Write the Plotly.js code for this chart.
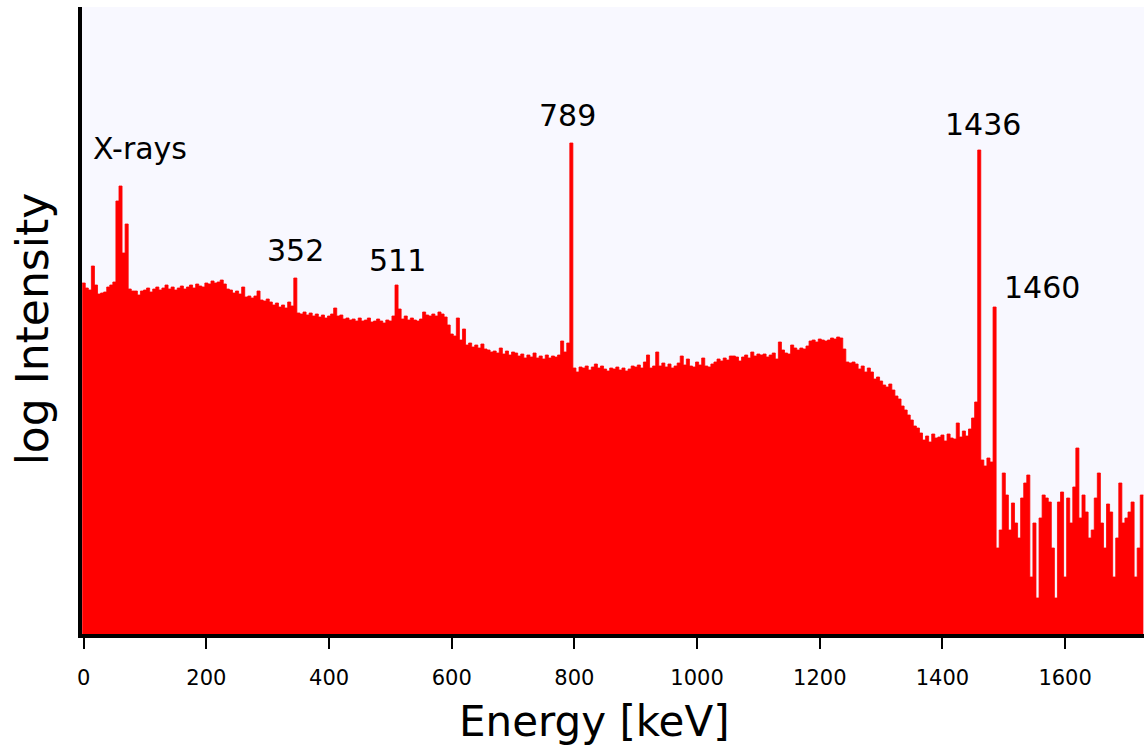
<!DOCTYPE html>
<html>
<head>
<meta charset="utf-8">
<script src="https://cdn.plot.ly/plotly-3.0.1.min.js"></script>
<style>
  html, body { margin: 0; padding: 0; background: #ffffff; }
  #chart { width: 1144px; height: 751px; }
</style>
</head>
<body>
<div id="chart"></div>
<script>
// Energy binning of the spectrum (keV)
const binStart = -2.5;
const binWidth = 5;

// log intensity per 5 keV bin (arbitrary units)
const logIntensity = [
  351,346,344,368,349,340,341,342,347,349,
  352,433,448,381,410,345,343,343,339,343,
  344,346,342,345,347,344,346,349,345,347,
  344,346,348,345,347,349,346,350,348,347,
  351,350,353,351,352,354,350,345,344,341,
  343,340,347,337,338,336,338,343,334,333,
  335,332,329,331,327,329,326,332,328,356,
  321,320,322,319,321,318,320,317,319,316,
  318,320,326,318,319,315,316,314,315,313,
  316,313,314,316,312,313,315,313,311,314,
  313,318,349,325,315,318,314,316,314,313,
  315,322,319,318,320,318,322,320,317,309,
  300,298,316,294,305,289,291,287,289,286,
  290,285,284,282,283,281,286,280,283,279,
  282,281,278,280,276,279,277,281,276,278,
  275,279,276,278,277,279,293,282,291,491,
  266,262,267,266,268,264,267,270,266,268,
  265,263,266,265,267,264,266,263,265,268,
  267,269,266,272,279,266,268,282,268,271,
  267,270,266,268,271,278,269,275,268,267,
  272,269,276,268,267,270,272,275,273,276,
  274,278,278,277,273,277,279,276,282,278,
  280,279,280,277,279,281,275,292,284,281,
  280,289,286,284,286,285,288,293,294,292,
  295,294,293,294,296,295,297,296,285,272,
  271,272,270,265,268,262,266,262,255,257,
  253,249,247,250,244,238,235,228,224,219,
  214,208,206,201,194,198,192,200,196,197,
  199,193,200,196,195,211,197,203,198,205,
  216,232,484,174,168,176,172,327,86,104,
  161,139,104,131,111,96,136,151,159,57,
  111,36,116,139,136,132,86,36,132,142,
  57,136,111,147,186,116,139,122,96,104,
  136,161,111,86,130,122,57,96,151,111,
  116,122,132,57,86,139
];

// Axis ticks
const tickValues = [0, 200, 400, 600, 800, 1000, 1200, 1400, 1600];
const tickLabels = ["0", "200", "400", "600", "800", "1000", "1200", "1400", "1600"];

// Axis titles
const xTitle = "Energy [keV]";
const yTitle = "log Intensity";

// Peak labels
const peakLabels = ["X-rays", "352", "511", "789", "1436", "1460"];
const peakLabelX = [92, 345, 511, 789, 1466, 1562];
const peakLabelY = [486, 384, 374, 519, 510, 347];

// Build step outline (bin edges) for the histogram fill
const xs = [];
const ys = [];
for (let i = 0; i < logIntensity.length; i++) {
  xs.push(binStart + i * binWidth);
  ys.push(logIntensity[i]);
}
xs.push(binStart + logIntensity.length * binWidth);
ys.push(logIntensity[logIntensity.length - 1]);

const trace = {
  type: 'scatter',
  mode: 'lines',
  x: xs,
  y: ys,
  line: { shape: 'hv', color: '#ff0000', width: 0.8 },
  fill: 'tozeroy',
  fillcolor: '#ff0000',
  hoverinfo: 'skip'
};

const annotations = peakLabels.map((t, i) => ({
  text: t,
  x: peakLabelX[i],
  y: peakLabelY[i],
  xref: 'x',
  yref: 'y',
  showarrow: false,
  xanchor: 'center',
  yanchor: 'middle',
  font: { family: 'DejaVu Sans', size: 30, color: '#000000' }
}));

// Axis titles placed as paper-referenced labels for exact positioning
annotations.push({
  text: xTitle,
  xref: 'paper', yref: 'paper',
  x: 0.483, y: -0.139,
  xanchor: 'center', yanchor: 'middle',
  showarrow: false,
  font: { family: 'DejaVu Sans', size: 42, color: '#000000' }
});
annotations.push({
  text: yTitle,
  xref: 'paper', yref: 'paper',
  x: -0.047, y: 0.486,
  xanchor: 'center', yanchor: 'middle',
  textangle: -90,
  showarrow: false,
  font: { family: 'DejaVu Sans', size: 44, color: '#000000' }
});

const layout = {
  width: 1144,
  height: 751,
  margin: { l: 82, r: 0, t: 7, b: 117, pad: 0 },
  paper_bgcolor: '#ffffff',
  plot_bgcolor: '#f8f8ff',
  showlegend: false,
  font: { family: 'DejaVu Sans', color: '#000000' },
  xaxis: {
    range: [-2.8, 1728.6],
    tickmode: 'array',
    tickvals: tickValues,
    ticktext: tickLabels,
    ticks: 'outside',
    ticklen: 11,
    tickwidth: 2,
    tickcolor: '#000000',
    ticklabelstandoff: 11,
    showline: true,
    linecolor: '#000000',
    linewidth: 4,
    showgrid: false,
    zeroline: false,
    tickfont: { family: 'DejaVu Sans', size: 21, color: '#000000' },
    automargin: false,
    fixedrange: true
  },
  yaxis: {
    range: [0, 627],
    showticklabels: false,
    ticks: '',
    showline: true,
    linecolor: '#000000',
    linewidth: 4,
    showgrid: false,
    zeroline: false,
    automargin: false,
    fixedrange: true
  },
  annotations: annotations
};

Plotly.newPlot('chart', [trace], layout, { displayModeBar: false, staticPlot: true });
</script>
</body>
</html>
